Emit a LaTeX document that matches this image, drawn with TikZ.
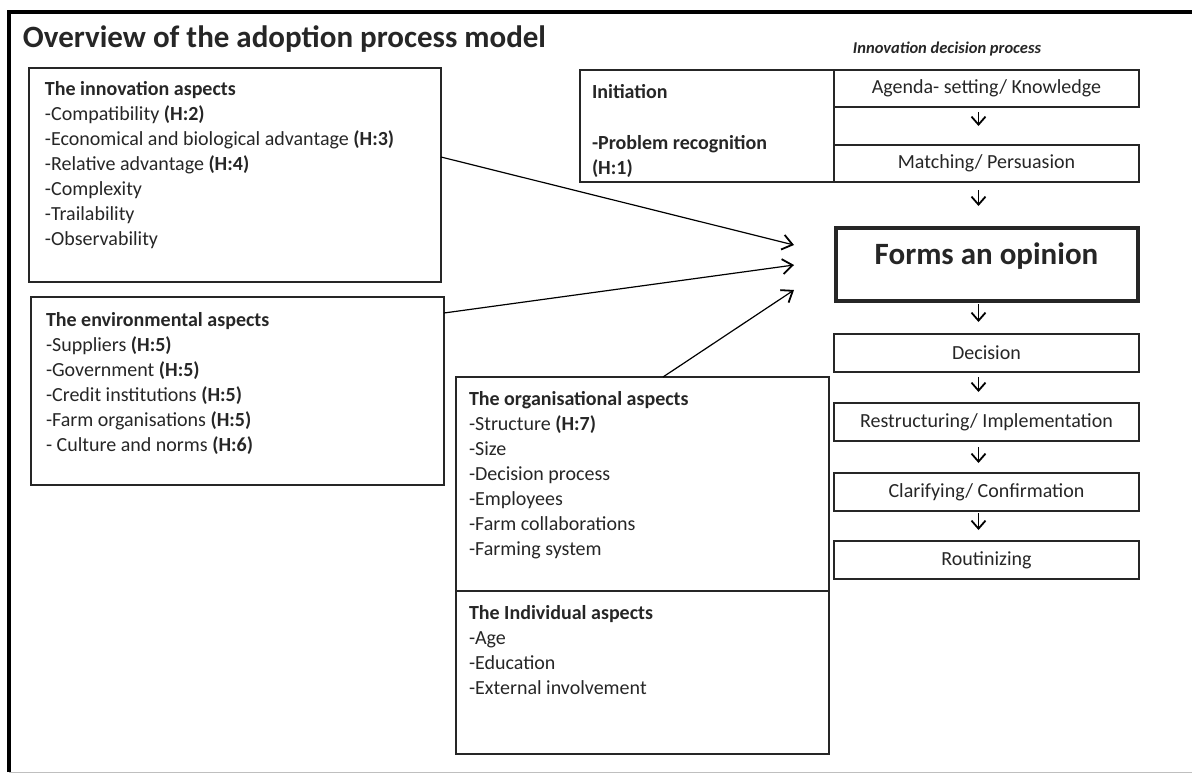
\documentclass[tikz,border=0pt]{standalone}
\usepackage{fontspec}
\setmainfont{Carlito}
\usepackage{xcolor}
\usepackage{tikz}
\usetikzlibrary{positioning, arrows.meta}

\begin{document}
\begin{tikzpicture}[x=1pt, y=-1pt, node distance=30pt and 30pt,
	every node/.style={inner sep=0pt, outer sep=0pt, font=\fontsize{20}{25}\selectfont, text=black!85},
	box/.style={draw=black!85, line width=1.3pt, rectangle},
	stage/.style={box, minimum width=305pt, minimum height=37pt},
	list/.style={align=left, anchor=north west},
	flow/.style={-{Straight Barb[length=8pt, width=14pt]}, line width=1.8pt},
	influence/.style={-{Straight Barb[length=10pt, width=15pt, line width=1.8pt]}, line width=1.2pt}]
		\useasboundingbox (0,0) rectangle (1192,774);
		
		% Frame
		\draw[black!25, line width=1pt] (9,772) -- (1192,772);
		\draw[line width=3.5pt] (9,772) -- (9,12) -- (1192,12);
		
		% Title
		\node[anchor=base west, font=\fontsize{31}{34}\selectfont\bfseries] (title) at (23,47) {Overview of the adoption process model};
		\node[anchor=base, font=\fontsize{16.5}{19}\selectfont\bfseries\itshape] (idp) at (947,53) {Innovation decision process};
		
		% Aspect boxes
		\node[box, minimum width=412pt, minimum height=214pt] (innov) at (235,175) {};
		\node[box, minimum width=413pt, minimum height=188pt] (env) at (237.5,391) {};
		\node[box, minimum width=373pt, minimum height=214pt] (org) at (642.5,484) {};
		\node[box, minimum width=373pt, minimum height=163pt, below=0pt of org] (indiv) {};
		
		\node[list] (innovtext) at (45,81) {\textbf{The innovation aspects}\\-Compatibility \textbf{(H:2)}\\-Economical and biological advantage \textbf{(H:3)}\\-Relative advantage \textbf{(H:4)}\\-Complexity\\-Trailability\\-Observability};
		\node[list] (envtext) at (46,312) {\textbf{The environmental aspects}\\-Suppliers \textbf{(H:5)}\\-Government \textbf{(H:5)}\\-Credit institutions \textbf{(H:5)}\\-Farm organisations \textbf{(H:5)}\\- Culture and norms \textbf{(H:6)}};
		\node[list] (orgtext) at (469,391) {\textbf{The organisational aspects}\\-Structure \textbf{(H:7)}\\-Size\\-Decision process\\-Employees\\-Farm collaborations\\-Farming system};
		\node[list] (indivtext) at (469,605) {\textbf{The Individual aspects}\\-Age\\-Education\\-External involvement};
		
		% Decision process
		\node[box, minimum width=254pt, minimum height=112pt] (init) at (707,126) {};
		\node[list, font=\fontsize{20}{25.5}\selectfont\bfseries] (inittext) at (592,84) {Initiation\\ \\-Problem recognition\\(H:1)};
		\node[stage] (agenda) at (986.5,88.5) {Agenda- setting/ Knowledge};
		\node[stage, below=38pt of agenda] (matching) {Matching/ Persuasion};
		\node[stage, line width=4pt, minimum width=302pt, minimum height=73pt, text depth=22pt, below=46pt of matching, font=\fontsize{31}{34}\selectfont\bfseries] (forms) {Forms an opinion};
		\node[stage, minimum height=38pt, below=33pt of forms] (decision) {Decision};
		\node[stage, minimum height=38pt, below=31pt of decision] (restruct) {Restructuring/ Implementation};
		\node[stage, minimum height=38pt, below=32pt of restruct] (clarify) {Clarifying/ Confirmation};
		\node[stage, minimum height=38pt, below=30pt of clarify] (routine) {Routinizing};
		
		% Flow arrows
		\draw[flow, shorten <=5pt, shorten >=19pt] ([xshift=-8pt]agenda.south) -- ([xshift=-8pt]matching.north);
		\draw[flow, shorten <=8pt, shorten >=22pt] ([xshift=-8pt]matching.south) -- ([xshift=-8pt]forms.north);
		\draw[flow, shorten <=3pt, shorten >=12pt] ([xshift=-8pt]forms.south) -- ([xshift=-8pt]decision.north);
		\draw[flow, shorten <=5pt, shorten >=11pt] ([xshift=-8pt]decision.south) -- ([xshift=-8pt]restruct.north);
		\draw[flow, shorten <=6pt, shorten >=10pt] ([xshift=-8pt]restruct.south) -- ([xshift=-8pt]clarify.north);
		\draw[flow, shorten <=2pt, shorten >=11pt] ([xshift=-8pt]clarify.south) -- ([xshift=-8pt]routine.north);
		
		% Influences on the opinion
		\coordinate (tipinnov) at (794,245);
		\coordinate (tipenv) at (794,265);
		\coordinate (tiporg) at (794,290);
		\draw[influence] ([yshift=18pt]innov.east) -- (tipinnov);
		\draw[influence] ([yshift=78pt]env.east) -- (tipenv);
		\draw[influence] ([xshift=20.5pt]org.north) -- (tiporg);
	\end{tikzpicture}
\end{document}
